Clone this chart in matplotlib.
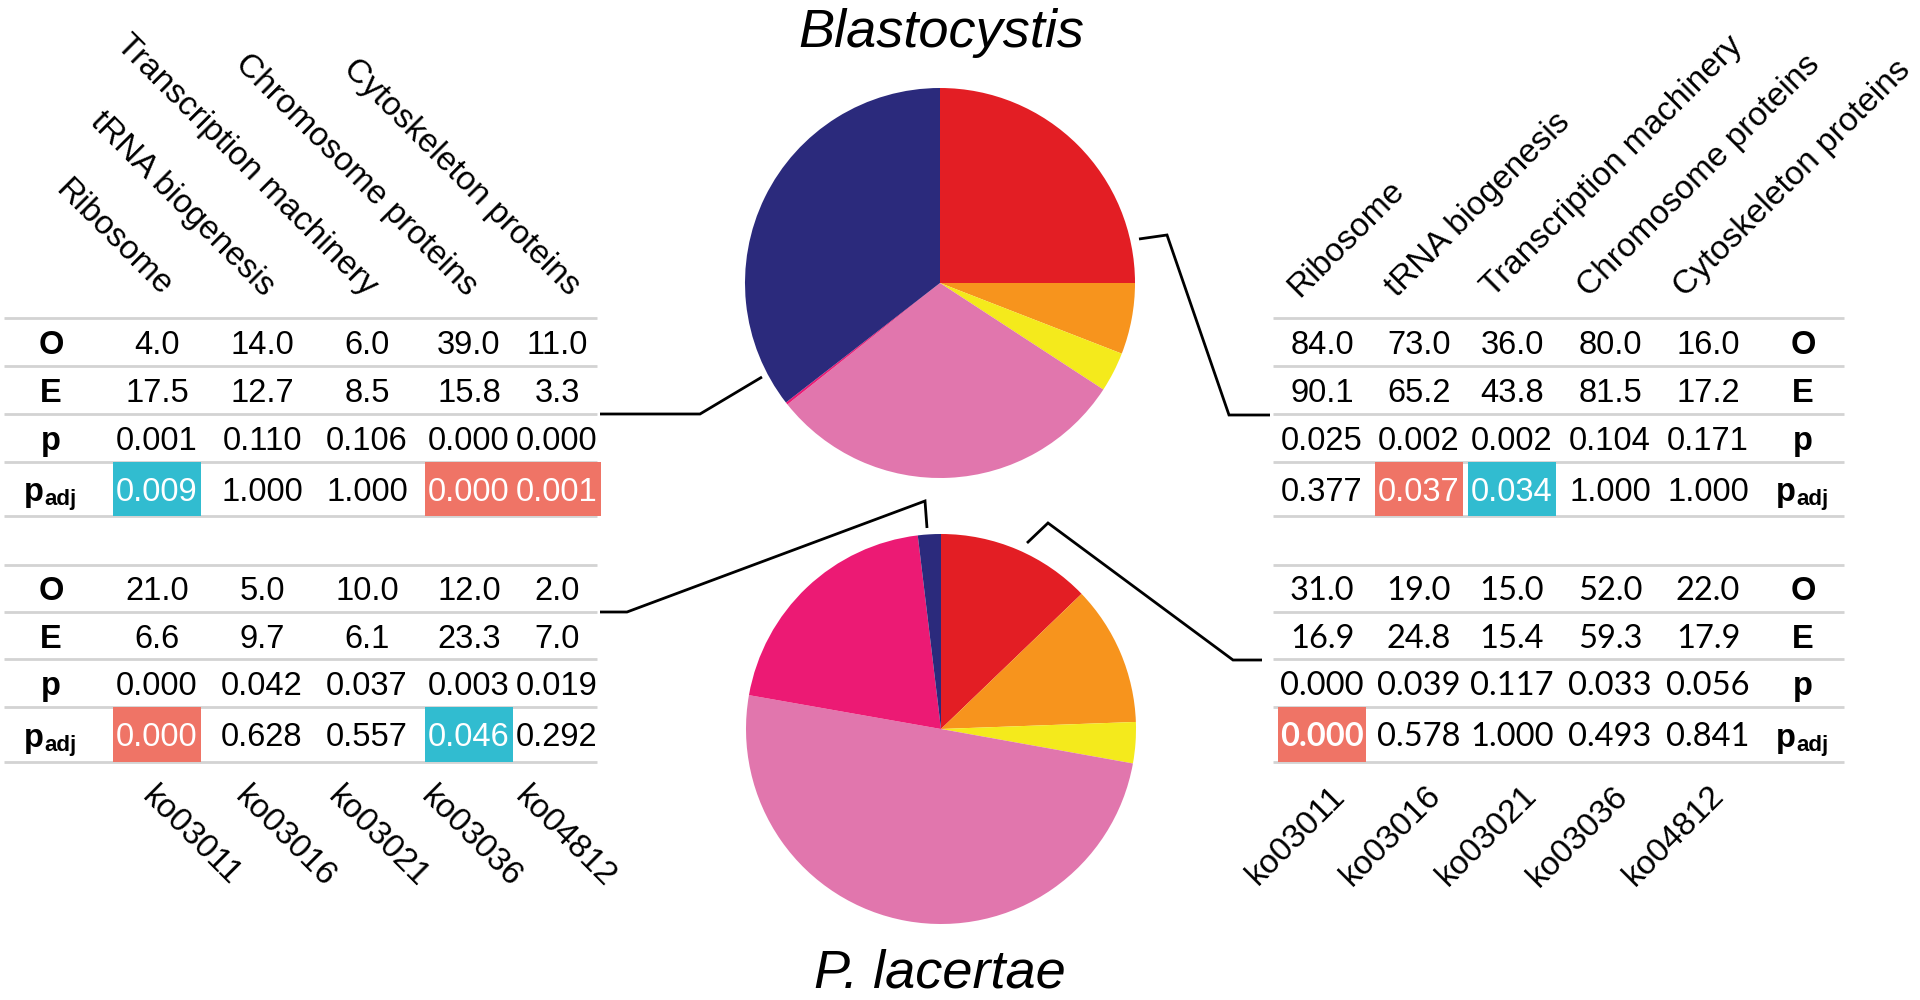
import matplotlib.pyplot as plt
from matplotlib.patches import Rectangle

# gene categories / KEGG ids used as table columns
categories = ["Ribosome", "tRNA biogenesis", "Transcription machinery",
              "Chromosome proteins", "Cytoskeleton proteins"]
ko_ids = ["ko03011", "ko03016", "ko03021", "ko03036", "ko04812"]
row_names = ["O", "E", "p", "padj"]

# pie shares (red, orange, yellow, pink, magenta, navy)
pie_colors = ["#E31E24", "#F7941D", "#F4EA1C", "#E176AD", "#EC1A74", "#2B2A7C"]
blasto_pie = [25.0, 5.9, 3.3, 30.1, 0.2, 35.5]
placertae_pie = [12.8, 11.6, 3.4, 49.9, 20.3, 1.9]

# Blastocystis, left table
bl_O = [4.0, 14.0, 6.0, 39.0, 11.0]
bl_E = [17.5, 12.7, 8.5, 15.8, 3.3]
bl_p = [0.001, 0.110, 0.106, 0.000, 0.000]
bl_padj = [0.009, 1.000, 1.000, 0.000, 0.001]

# Blastocystis, right table
br_O = [84.0, 73.0, 36.0, 80.0, 16.0]
br_E = [90.1, 65.2, 43.8, 81.5, 17.2]
br_p = [0.025, 0.002, 0.002, 0.104, 0.171]
br_padj = [0.377, 0.037, 0.034, 1.000, 1.000]

# P. lacertae, left table
pl_O = [21.0, 5.0, 10.0, 12.0, 2.0]
pl_E = [6.6, 9.7, 6.1, 23.3, 7.0]
pl_p = [0.000, 0.042, 0.037, 0.003, 0.019]
pl_padj = [0.000, 0.628, 0.557, 0.046, 0.292]

# P. lacertae, right table
pr_O = [31.0, 19.0, 15.0, 52.0, 22.0]
pr_E = [16.9, 24.8, 15.4, 59.3, 17.9]
pr_p = [0.000, 0.039, 0.117, 0.033, 0.056]
pr_padj = [0.000, 0.578, 1.000, 0.493, 0.841]

UP = "#EF7466"
DOWN = "#31BCD0"
GRID = "#D3D3D3"
FONT = "Liberation Sans"
FS = 23.5
HFS = 24

fig = plt.figure(figsize=(19.2, 10), dpi=100)
ax = fig.add_axes([0, 0, 1, 1])

# pies (y axis is inverted, so counterclockwise in data = clockwise on screen)
for vals, c in [(blasto_pie, (940, 283)), (placertae_pie, (941, 729))]:
    ax.pie(vals, colors=pie_colors, center=c, radius=195, startangle=-90,
           counterclock=True, frame=True, wedgeprops=dict(linewidth=0))

ax.text(941, 33, "Blastocystis", ha="center", va="center", fontsize=39,
        style="italic", family=FONT)
ax.text(940, 973, "P. lacertae", ha="center", va="center", fontsize=39,
        style="italic", family=FONT)


def row_label(x, y, name):
    if name == "padj":
        ax.text(x - 7, y, "p", ha="right", va="baseline", fontsize=FS,
                weight="bold", family=FONT)
        ax.text(x - 7, y + 4, "adj", ha="left", va="baseline", fontsize=16,
                weight="bold", family=FONT)
    else:
        ax.text(x, y, name, ha="center", va="baseline", fontsize=FS,
                weight="bold", family=FONT)


def draw_table(O, E, p, padj, cols, lines_y, x0, x1, label_x,
               font=FONT, bold_hits=False):
    for y in lines_y:
        ax.plot([x0, x1], [y, y], color=GRID, lw=2, solid_capstyle="butt",
                zorder=1)
    rows = [[f"{v:.1f}" for v in O], [f"{v:.1f}" for v in E],
            [f"{v:.3f}" for v in p], [f"{v:.3f}" for v in padj]]
    for r, texts in enumerate(rows):
        y_top, y_bot = lines_y[r], lines_y[r + 1]
        base = (y_top + y_bot) / 2 + 12
        row_label(label_x, base, row_names[r])
        for j, t in enumerate(texts):
            color, weight = "black", "normal"
            if r == 3 and padj[j] < 0.05:
                fc = UP if O[j] > E[j] else DOWN
                ax.add_patch(Rectangle((cols[j] - 44, y_top), 88, y_bot - y_top,
                                       fc=fc, ec="none", zorder=2))
                color = "white"
                weight = "bold" if bold_hits else "normal"
            ax.text(cols[j], base, t, ha="center", va="baseline", fontsize=FS,
                    color=color, weight=weight, family=font, zorder=3)


left_cols = [157, 262, 367, 469, 557]
right_cols = [1322, 1419, 1512, 1610, 1708]
top_lines = [318, 366, 414, 462, 516]
bot_lines = [565, 612, 659, 707, 762]

draw_table(bl_O, bl_E, bl_p, bl_padj, left_cols, top_lines, 4, 597, 51)
draw_table(pl_O, pl_E, pl_p, pl_padj, left_cols, bot_lines, 4, 597, 51)
draw_table(br_O, br_E, br_p, br_padj, right_cols, top_lines, 1273, 1844, 1803)
draw_table(pr_O, pr_E, pr_p, pr_padj, right_cols, bot_lines, 1273, 1844, 1803,
           font="Lato", bold_hits=True)

# column headers
left_head_x = [160, 263, 366, 466, 569]
for x, name in zip(left_head_x, categories):
    ax.text(x, 297, name, rotation=-45, rotation_mode="anchor", ha="right",
            va="baseline", fontsize=HFS, family=FONT)
right_head_x = [1299, 1397, 1493, 1589, 1685]
for x, name in zip(right_head_x, categories):
    ax.text(x, 298, name, rotation=45, rotation_mode="anchor", ha="left",
            va="baseline", fontsize=HFS, family=FONT)

# KEGG ids below
left_ko_x = [158, 251, 344, 437, 531]
for x, name in zip(left_ko_x, ko_ids):
    ax.text(x, 781, name, rotation=-45, rotation_mode="anchor", ha="left",
            va="top", fontsize=HFS, family=FONT)
right_ko_x = [1346, 1442, 1538, 1629, 1725]
for x, name in zip(right_ko_x, ko_ids):
    ax.text(x, 797, name, rotation=45, rotation_mode="anchor", ha="right",
            va="baseline", fontsize=HFS, family=FONT)

# connector lines
kw = dict(color="black", lw=2, solid_joinstyle="miter", solid_capstyle="butt")
ax.plot([600, 700, 762], [414, 414, 377], **kw)
ax.plot([1139, 1167, 1229, 1270], [239, 235, 415, 415], **kw)
ax.plot([600, 627, 925, 927], [612, 612, 501, 528], **kw)
ax.plot([1027, 1048, 1233, 1262], [543, 523, 660, 660], **kw)

ax.set_xlim(0, 1920)
ax.set_ylim(1000, 0)
ax.set_aspect("equal")
ax.axis("off")
fig.savefig("out.png", dpi=100, facecolor="white")
